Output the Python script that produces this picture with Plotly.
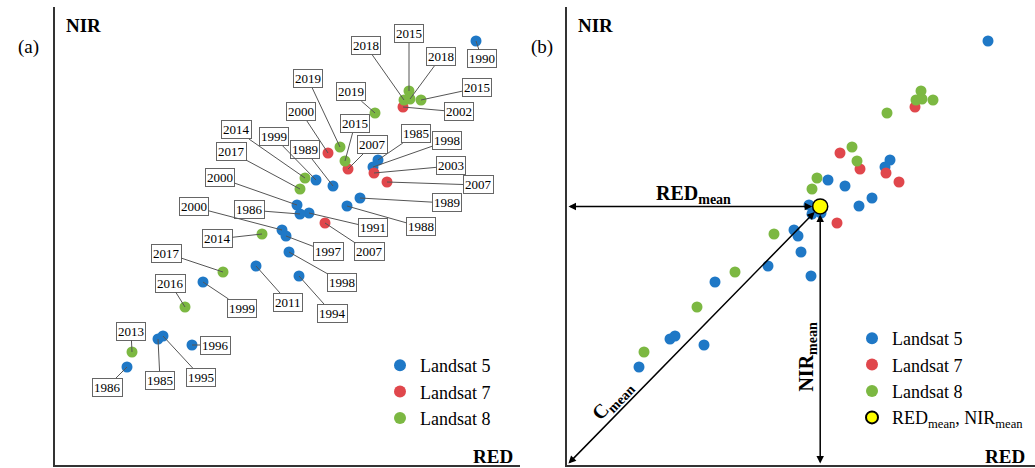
import plotly.graph_objects as go

# ---------------- data (RED, NIR reflectance in arbitrary units) ----------------
L5_RED = [421, 323, 318, 305, 292, 254, 278, 261, 242, 245, 227, 231, 234, 244, 201, 148, 103, 108, 137, 72]
L5_NIR = [424, 305, 298, 267, 259, 252, 279, 285, 260, 251, 235, 229, 213, 189, 199, 183, 126, 129, 120, 98]
L5_YEAR = [1990, 1985, 1998, 1989, 1988, 1991, 1989, 1999, 2000, 1986, 2000, 1997, 1998, 1994, 2011, 1999, 1985, 1995, 1996, 1986]

L7_RED = [348, 273, 293, 319, 332, 270]
L7_NIR = [358, 312, 296, 292, 283, 242]
L7_YEAR = [2002, 2000, 2007, 2003, 2007, 2007]

L8_RED = [354, 349, 355, 366, 320, 285, 290, 250, 245, 207, 168, 130, 77]
L8_NIR = [374, 365, 366, 365, 352, 318, 304, 287, 276, 231, 193, 158, 113]
L8_YEAR = [2015, 2018, 2018, 2015, 2019, 2019, 2015, 2014, 2017, 2014, 2017, 2016, 2013]

SERIES = ["Landsat 5", "Landsat 7", "Landsat 8"]

# ---------------- layout helpers (label offsets in screen pixels) ----------------
L5_OFF = [(6, 18), (38, -26), (74, -26), (87, 5), (74, 21), (64, 15), (-28, -36), (-42, -43),
          (-77, -27), (-51, -4), (-88, -23), (42, 16), (53, 30), (33, 37), (32, 36), (39, 26),
          (2, 41), (38, 41), (23, 0), (-20, 20)]
L7_OFF = [(56, 5), (-27, -41), (24, -24), (77, -7), (91, 3), (44, 29)]
L8_OFF = [(0, -57), (-38, -54), (31, -42), (56, -12), (-24, -21), (-32, -68), (10, -37),
          (-69, -48), (-69, -37), (-45, 5), (-57, -19), (-15, -24), (-1, -21)]

COLORS = ["#1f78c6", "#e0474c", "#7cb842"]
FONT = "Liberation Serif"
W, H = 1035, 468

all_red = L5_RED + L7_RED + L8_RED
all_nir = L5_NIR + L7_NIR + L8_NIR
RED_MEAN = sum(all_red) / len(all_red)
NIR_MEAN = sum(all_nir) / len(all_nir)

fig = go.Figure()
groups = [(L5_RED, L5_NIR, L5_YEAR, L5_OFF), (L7_RED, L7_NIR, L7_YEAR, L7_OFF), (L8_RED, L8_NIR, L8_YEAR, L8_OFF)]

for i, (r, n, yr, off) in enumerate(groups):
    fig.add_trace(go.Scatter(x=r, y=n, mode="markers", name=SERIES[i], xaxis="x", yaxis="y",
                             marker=dict(color=COLORS[i], size=11, line=dict(width=0)),
                             legend="legend"))
for i, (r, n, yr, off) in enumerate(groups):
    fig.add_trace(go.Scatter(x=r, y=n, mode="markers", name=SERIES[i], xaxis="x2", yaxis="y2",
                             marker=dict(color=COLORS[i], size=11, line=dict(width=0)),
                             legend="legend2"))
fig.add_trace(go.Scatter(x=[RED_MEAN], y=[NIR_MEAN], mode="markers", xaxis="x2", yaxis="y2",
                         name="RED<sub>mean</sub>, NIR<sub>mean</sub>",
                         marker=dict(color="#ffff00", size=15, line=dict(color="black", width=1.5)),
                         legend="legend2"))

ann = []
# year callouts on panel (a)
for (r, n, yr, off) in groups:
    for xv, yv, label, (dx, dy) in zip(r, n, yr, off):
        ann.append(dict(x=xv, y=yv, xref="x", yref="y", text=str(label), showarrow=True,
                        ax=dx, ay=dy, arrowhead=0, arrowwidth=1, arrowcolor="#555", standoff=0,
                        bgcolor="white", bordercolor="#666", borderwidth=1, borderpad=1,
                        font=dict(family=FONT, size=13, color="black")))

# panel (b) arrows
arrow_common = dict(xref="x2", yref="y2", axref="x2", ayref="y2", text="", showarrow=True,
                    arrowhead=2, arrowsize=1, arrowwidth=1.5, arrowcolor="black",
                    arrowside="end+start", standoff=8, startstandoff=0)
ann.append(dict(x=RED_MEAN, y=NIR_MEAN, ax=0, ay=NIR_MEAN, **arrow_common))
ann.append(dict(x=RED_MEAN, y=NIR_MEAN, ax=RED_MEAN, ay=0, **arrow_common))
ann.append(dict(x=RED_MEAN, y=NIR_MEAN, ax=0, ay=0, **arrow_common))

ann.append(dict(x=RED_MEAN / 2, y=NIR_MEAN, xref="x2", yref="y2", showarrow=False, yshift=12,
                text="<b>RED<sub>mean</sub></b>", font=dict(family=FONT, size=20, color="black")))
ann.append(dict(x=RED_MEAN, y=NIR_MEAN * 0.42, xref="x2", yref="y2", showarrow=False, xshift=-13,
                textangle=-90, text="<b>NIR<sub>mean</sub></b>", font=dict(family=FONT, size=20, color="black")))
ann.append(dict(x=RED_MEAN * 0.18, y=NIR_MEAN * 0.25, xref="x2", yref="y2", showarrow=False,
                textangle=-46, text="<b>C<sub>mean</sub></b>", font=dict(family=FONT, size=20, color="black")))

# axis names and panel letters
def px(x, y):
    return x / W, (H - y) / H

for (x, y, t, bold) in [(83, 25, "NIR", True), (493, 456, "RED", True), (595, 25, "NIR", True),
                        (1005, 456, "RED", True), (28, 47, "(a)", False), (542, 47, "(b)", False)]:
    xp, yp = px(x, y)
    ann.append(dict(x=xp, y=yp, xref="paper", yref="paper", showarrow=False,
                    xanchor="center", yanchor="middle",
                    text=f"<b>{t}</b>" if bold else t,
                    font=dict(family=FONT, size=19, color="black")))

axis_style = dict(showline=True, linecolor="#333", linewidth=1.5, showgrid=False, zeroline=False,
                  showticklabels=False, ticks="", fixedrange=True)
ydom = [3 / H, 461 / H]

fig.update_layout(
    width=W, height=H, margin=dict(l=0, r=0, t=0, b=0),
    paper_bgcolor="white", plot_bgcolor="white",
    xaxis=dict(domain=[55 / W, 520 / W], range=[0, 465], anchor="y", **axis_style),
    yaxis=dict(domain=ydom, range=[0, 458], anchor="x", **axis_style),
    xaxis2=dict(domain=[567 / W, 1.0], range=[0, 468], anchor="y2", **axis_style),
    yaxis2=dict(domain=ydom, range=[0, 458], anchor="x2", **axis_style),
    annotations=ann,
    legend=dict(x=380 / W, y=(H - 347) / H, xanchor="left", yanchor="top", bgcolor="rgba(0,0,0,0)",
                font=dict(family=FONT, size=18, color="black"), itemsizing="constant"),
    legend2=dict(x=852 / W, y=(H - 320) / H, xanchor="left", yanchor="top", bgcolor="rgba(0,0,0,0)",
                 font=dict(family=FONT, size=18, color="black"), itemsizing="constant"),
)

fig.write_html("out.html", config={"displayModeBar": False},
               post_script="document.body.style.margin='0px';")
